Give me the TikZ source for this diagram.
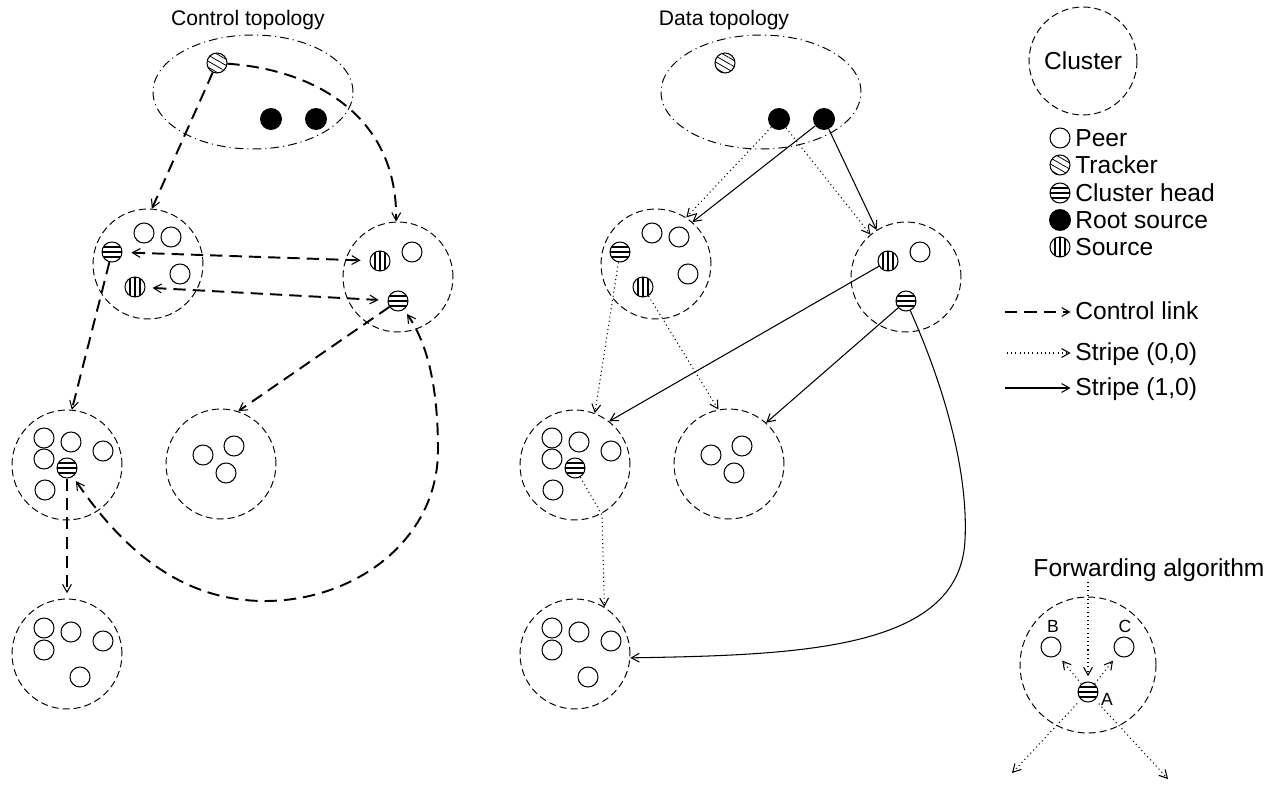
\documentclass[tikz,border=0pt]{standalone}
\usepackage{fontspec}
\setmainfont{Liberation Sans}
\usetikzlibrary{arrows.meta}
\usetikzlibrary{patterns.meta}

\tikzset{
    clusterbox/.style={circle,draw,line width=0.55pt,dash pattern=on 4pt off 2.3pt,minimum size=2.2cm,inner sep=0pt},
    peer/.style={circle,draw,line width=0.6pt,minimum size=0.4cm,inner sep=0pt},
    tracker/.style={peer,pattern={Lines[angle=-30,distance=3pt,line width=0.45pt]}},
    headnode/.style={peer,path picture={
        \foreach \k in {-5,0,5}
        \draw[line width=1pt] ([yshift=\k*0.02cm]path picture bounding box.west) -- ([yshift=\k*0.02cm]path picture bounding box.east);}},
    srcnode/.style={peer,path picture={
        \foreach \k in {-5,0,5}
        \draw[line width=0.6pt] ([xshift=\k*0.02cm]path picture bounding box.south) -- ([xshift=\k*0.02cm]path picture bounding box.north);}},
    rootnode/.style={circle,fill=black,minimum size=0.44cm,inner sep=0pt},
    ctrl/.style={->,line width=1.1pt,dash pattern=on 7pt off 4pt},
    stripe0/.style={->,line width=0.6pt,dash pattern=on 0.6pt off 1.8pt},
    stripe1/.style={->,line width=0.6pt},
    lgtext/.style={anchor=base west,inner sep=0pt},
    titletext/.style={anchor=base,font=\fontsize{12}{14}\selectfont}
}

\begin{document}
\begin{tikzpicture}[x=0.02cm,y=-0.02cm,>={Straight Barb[length=4.5pt,width=5pt,line width=0.6pt]},
    every node/.style={font=\fontsize{14}{16}\selectfont}]
    \useasboundingbox (0,0) rectangle (1278,787);

    \node[titletext] (c-title) at (248,26) {Control topology};
    \node[titletext] (d-title) at (724,26) {Data topology};

    \foreach \p/\dx in {c/0,d/508}
    {
    \draw[line width=0.55pt,dash pattern=on 5pt off 2.3pt on 0.6pt off 2.3pt] (\dx+253,92) ellipse (2cm and 1.14cm);
    \node[tracker] (\p-tr) at (\dx+217,63) {};
    \node[rootnode] (\p-r1) at (\dx+271,119) {};
    \node[rootnode] (\p-r2) at (\dx+316,119) {};

    \node[clusterbox] (\p-cl1) at (\dx+148,264) {};
    \node[headnode] (\p-h1) at (\dx+112,252) {};
    \node[srcnode] (\p-s1) at (\dx+135,287) {};
    \node[peer] (\p-p1a) at (\dx+144,233) {};
    \node[peer] (\p-p1b) at (\dx+171,237) {};
    \node[peer] (\p-p1c) at (\dx+180,274) {};

    \node[clusterbox] (\p-cl2) at (\dx+398,277) {};
    \node[srcnode] (\p-s2) at (\dx+380,261) {};
    \node[headnode] (\p-h2) at (\dx+398,301) {};
    \node[peer] (\p-p2a) at (\dx+412,252) {};

    \node[clusterbox] (\p-cl3) at (\dx+67,465) {};
    \node[headnode] (\p-h3) at (\dx+67,468) {};
    \node[peer] (\p-p3a) at (\dx+44,438) {};
    \node[peer] (\p-p3b) at (\dx+71,442) {};
    \node[peer] (\p-p3c) at (\dx+103,451) {};
    \node[peer] (\p-p3d) at (\dx+44,459) {};
    \node[peer] (\p-p3e) at (\dx+45,490) {};

    \node[clusterbox] (\p-cl4) at (\dx+221,464) {};
    \node[peer] (\p-p4a) at (\dx+203,455) {};
    \node[peer] (\p-p4b) at (\dx+234,446) {};
    \node[peer] (\p-p4c) at (\dx+226,473) {};

    \node[clusterbox] (\p-cl5) at (\dx+67,654) {};
    \node[peer] (\p-p5a) at (\dx+44,628) {};
    \node[peer] (\p-p5b) at (\dx+71,632) {};
    \node[peer] (\p-p5c) at (\dx+103,641) {};
    \node[peer] (\p-p5d) at (\dx+44,650) {};
    \node[peer] (\p-p5e) at (\dx+80,677) {};
    }

    \draw[ctrl] (c-tr) -- (c-cl1.86);
    \draw[ctrl] (c-tr) .. controls (320,70) and (398,120) .. (c-cl2.92);
    \draw[ctrl,<->,shorten <=5pt,shorten >=5pt] (c-h1) -- (c-s2);
    \draw[ctrl,<->,shorten <=4pt,shorten >=5pt] (c-s1) -- (c-h2);
    \draw[ctrl] (c-h1) -- (c-cl3.85);
    \draw[ctrl] (c-h2) -- (c-cl4.72);
    \draw[ctrl,shorten >=3pt] (c-h3) -- (c-cl5);
    \draw[ctrl,<->,shorten <=3pt,shorten >=3pt] (c-h3)
    .. controls (130,560) and (190,601) .. (265,601)
    .. controls (355,601) and (438,540) .. (438,450)
    .. controls (438,380) and (425,340) .. (c-h2);

    \draw[stripe0] (d-r1) -- (d-cl1.57);
    \draw[stripe0] (d-r1) -- (d-cl2.130);
    \draw[stripe1] (d-r2) -- (d-cl1.49);
    \draw[stripe1] (d-r2) -- (d-cl2.122);
    \draw[stripe0] (d-h1) -- (d-cl3.69);
    \draw[stripe0] (d-s1) -- (d-cl4.101);
    \draw[stripe1] (d-s2) -- (d-cl3.52);
    \draw[stripe1] (d-h2) -- (d-cl4.48);
    \draw[stripe1] (d-h2) .. controls (950,400) and (968,480) .. (965,540)
    .. controls (960,650) and (800,655) .. (d-cl5.-4);
    \draw[stripe0] (d-h3) -- (602,515) -- (d-cl5.58);

    \node[clusterbox,minimum size=2.16cm] (lg-cl) at (1083,61) {Cluster};
    \node[peer] (lg-peer) at (1060,138) {};
    \node[lgtext] (lg-peert) at (1075,146.5) {Peer};
    \node[tracker] (lg-tr) at (1060,165) {};
    \node[lgtext] (lg-trt) at (1075,173.5) {Tracker};
    \node[headnode] (lg-h) at (1060,193) {};
    \node[lgtext] (lg-ht) at (1075,201.5) {Cluster head};
    \node[rootnode] (lg-r) at (1060,220) {};
    \node[lgtext] (lg-rt) at (1075,228.5) {Root source};
    \node[srcnode] (lg-s) at (1060,247) {};
    \node[lgtext] (lg-st) at (1075,255.5) {Source};

    \coordinate (lg-a1) at (1005,312);
    \node[lgtext] (lg-ctrl) at (1075,319) {Control link};
    \draw[ctrl,shorten >=2.5pt] (lg-a1) -- (lg-a1 -| lg-ctrl.west);
    \coordinate (lg-a2) at (1007,353);
    \node[lgtext] (lg-s0) at (1075,360) {Stripe (0,0)};
    \draw[stripe0,shorten >=2.5pt] (lg-a2) -- (lg-a2 -| lg-s0.west);
    \coordinate (lg-a3) at (1005,388);
    \node[lgtext] (lg-s1) at (1075,395) {Stripe (1,0)};
    \draw[stripe1,shorten >=2.5pt] (lg-a3) -- (lg-a3 -| lg-s1.west);

    \node[anchor=base] (fw-title) at (1149,576) {Forwarding algorithm};
    \node[clusterbox,minimum size=2.72cm] (fw-cl) at (1088,665) {};
    \node[headnode] (fw-a) at (1088,692) {};
    \node[peer] (fw-b) at (1051,647) {};
    \node[peer] (fw-c) at (1124,647) {};
    \node[font=\fontsize{10}{12}\selectfont] (fw-la) at (1107,699) {A};
    \node[font=\fontsize{10}{12}\selectfont] (fw-lb) at (1053,626) {B};
    \node[font=\fontsize{10}{12}\selectfont] (fw-lc) at (1125,626) {C};
    \coordinate (fw-in) at (1088,582);
    \coordinate (fw-out1) at (1012,773);
    \coordinate (fw-out2) at (1168,779);
    \draw[stripe0,shorten >=3pt] (fw-in) -- (fw-a);
    \draw[stripe0,shorten >=4pt] (fw-a) -- (fw-b);
    \draw[stripe0,shorten >=4pt] (fw-a) -- (fw-c);
    \draw[stripe0,shorten <=3pt] (fw-a) -- (fw-out1);
    \draw[stripe0,shorten <=3pt] (fw-a) -- (fw-out2);

\end{tikzpicture}
\end{document}
